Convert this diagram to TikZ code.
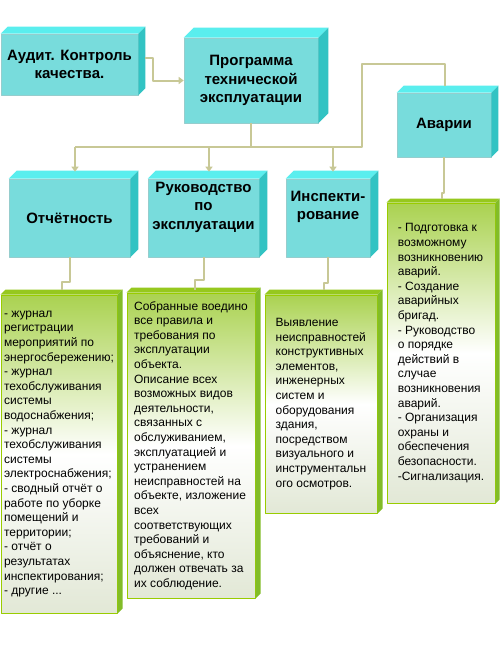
\documentclass[tikz,border=0pt]{standalone}
\usepackage{fontspec}
\setmainfont{Liberation Sans}
\usetikzlibrary{arrows.meta}
\definecolor{cyfront}{RGB}{120,220,220}
\definecolor{cytop}{RGB}{90,238,238}
\definecolor{cyside}{RGB}{50,195,195}
\definecolor{cyedge}{RGB}{150,205,205}
\definecolor{grline}{RGB}{153,204,0}
\definecolor{grtop}{RGB}{170,210,80}
\definecolor{grbot}{RGB}{226,232,214}
\definecolor{grlid}{RGB}{150,200,30}
\definecolor{grside}{RGB}{130,188,40}
\definecolor{khaki}{RGB}{200,200,150}

\begin{document}
\begin{tikzpicture}[x=1pt,y=-1pt,line join=round,
  cbox/.style={draw=cyedge,line width=.6pt,fill=cyfront,inner sep=0pt,align=center,
    font=\bfseries\fontsize{15}{18.5}\selectfont},
  gbox/.style={draw=grline,line width=1pt,top color=grtop,bottom color=grbot,middle color=white,
    inner sep=0pt,align=left,font=\fontsize{12}{14.6}\selectfont},
  conn/.style={draw=khaki,line width=2pt},
  arr/.style={-{Triangle[length=5pt,width=7pt]}}]
  \path[fill=white,use as bounding box] (0,0) rectangle (500,659);

  % upper row
  \node[cbox,minimum width=137pt,minimum height=61pt] (audit) at (69.5,64.5) {Аудит. Контроль\\качества.};
  \node[cbox,minimum width=134pt,minimum height=85pt] (prog) at (251,80.5) {Программа\\технической\\эксплуатации};
  \node[cbox,minimum width=94pt,minimum height=64pt] (avar) at (444,125) {Аварии};

  % middle row
  \node[cbox,minimum width=121pt,minimum height=78pt] (otch) at (69.5,218) {Отчётность};
  \node[cbox,minimum width=111pt,minimum height=78pt,text depth=25pt] (ruk) at (203.5,218) {Руководство\\по\\эксплуатации};
  \node[cbox,minimum width=84pt,minimum height=78pt,text depth=25pt] (insp) at (328,218) {Инспекти-\\рование};

  % lower row
  \node[gbox,minimum width=116pt,minimum height=318pt] (g1) at (59,454) {- журнал\\регистрации\\мероприятий по\\энергосбережению;\\- журнал\\техобслуживания\\системы\\водоснабжения;\\- журнал\\техобслуживания\\системы\\электроснабжения;\\- сводный отчёт о\\работе по уборке\\помещений и\\территории;\\- отчёт о\\результатах\\инспектирования;\\- другие ...};
  \node[gbox,minimum width=128pt,minimum height=305pt] (g2) at (191,445.5) {Собранные воедино\\все правила и\\требования по\\эксплуатации\\объекта.\\Описание всех\\возможных видов\\деятельности,\\связанных с\\обслуживанием,\\эксплуатацией и\\устранением\\неисправностей на\\объекте, изложение\\всех\\соответствующих\\требований и\\объяснение, кто\\должен отвечать за\\их соблюдение.};
  \node[gbox,minimum width=112pt,minimum height=218pt] (g3) at (321,404) {Выявление\\неисправностей\\конструктивных\\элементов,\\инженерных\\систем и\\оборудования\\здания,\\посредством\\визуального и\\инструментальн\\ого осмотров.};
  \node[gbox,minimum width=108pt,minimum height=300pt] (g4) at (441,353) {- Подготовка к\\возможному\\возникновению\\аварий.\\- Создание\\аварийных\\бригад.\\- Руководство\\о порядке\\действий в\\случае\\возникновения\\аварий.\\- Организация\\охраны и\\обеспечения\\безопасности.\\-Сигнализация.};

  % box sides
  \foreach \n/\d in {audit/7,prog/10,avar/7,otch/8,ruk/8,insp/8}{
    \fill[cytop] (\n.north west) -- ++(\d,-\d) -- ([shift={(\d,-\d)}]\n.north east) -- (\n.north east) -- cycle;
    \fill[cyside] (\n.north east) -- ++(\d,-\d) -- ([shift={(\d,-\d)}]\n.south east) -- (\n.south east) -- cycle;
  }
  \foreach \n/\d in {g1/5,g2/5,g3/5,g4/4}{
    \fill[grlid] (\n.north west) -- ++(\d,-\d) -- ([shift={(\d,-\d)}]\n.north east) -- (\n.north east) -- cycle;
    \fill[grside] (\n.north east) -- ++(\d,-\d) -- ([shift={(\d,-\d)}]\n.south east) -- (\n.south east) -- cycle;
  }

  % connectors
  \coordinate (busL) at (75,147);
  \coordinate (busR) at (362,147);
  \coordinate (bRuk) at (209,147);
  \coordinate (bInsp) at (333,147);
  \coordinate (turn) at (362,64);
  \draw[conn,arr] ([shift={(7,-6.5)}]audit.east) -- ++(8,0) |- (prog.west);
  \draw[conn] (prog.south) -- (prog.south |- busL);
  \draw[conn] (busL) -- (busR) -- (turn) -| ([shift={(1,-7)}]avar.north);
  \draw[conn,arr,shorten >=7pt] (busL) -- (busL |- otch.north);
  \draw[conn,arr,shorten >=7pt] (bRuk) -- (bRuk |- ruk.north);
  \draw[conn,arr,shorten >=7pt] (bInsp) -- (bInsp |- insp.north);
  \draw[conn] (otch.south) -- ++(0,25) -| ([shift={(3,-5)}]g1.north);
  \draw[conn] (ruk.south) -- ++(0,23) -| ([shift={(4,-3)}]g2.north);
  \draw[conn] (insp.south) -- ++(0,26) -| ([shift={(3,-5)}]g3.north);
  \draw[conn] (avar.south) -- ++(0,36) -| ([shift={(1,-4)}]g4.north);
\end{tikzpicture}
\end{document}
